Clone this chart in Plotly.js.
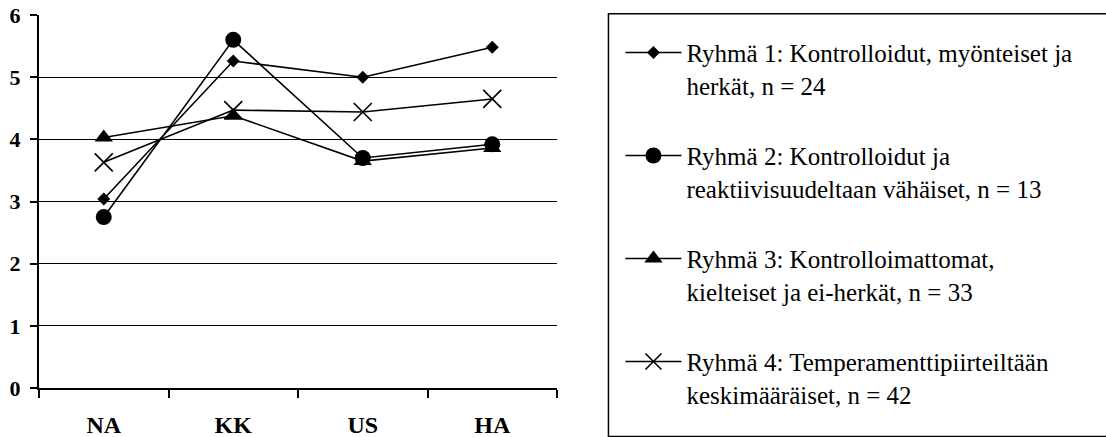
<!DOCTYPE html>
<html>
<head>
<meta charset="utf-8">
<script src="https://cdn.plot.ly/plotly-3.0.1.min.js"></script>
<style>
  html, body { margin: 0; padding: 0; background: #fff; }
  #chart { width: 1106px; height: 437px; }
</style>
</head>
<body>
<div id="chart"></div>
<script>
const categories = ['NA', 'KK', 'US', 'HA'];

const group1 = [3.04, 5.26, 5.00, 5.48];
const group2 = [2.75, 5.60, 3.70, 3.92];
const group3 = [4.03, 4.38, 3.65, 3.86];
const group4 = [3.63, 4.47, 4.44, 4.65];

const seriesNames = [
  'Ryhmä 1: Kontrolloidut, myönteiset ja<br>herkät, n = 24',
  'Ryhmä 2: Kontrolloidut ja<br>reaktiivisuudeltaan vähäiset, n = 13',
  'Ryhmä 3: Kontrolloimattomat,<br>kielteiset ja ei-herkät, n = 33',
  'Ryhmä 4: Temperamenttipiirteiltään<br>keskimääräiset, n = 42'
];

const yTicks = [0, 1, 2, 3, 4, 5, 6];

const W = 1106, H = 437;
const plotL = 39, plotR = 557.5, plotT = 15.3, plotB = 387.7;
const pw = plotR - plotL, ph = plotB - plotT;
const px = v => (v - plotL) / pw;
const py = v => (plotB - v) / ph;

const serif = '"Liberation Serif", "Times New Roman", Times, serif';

function mk(y, name, symbol, size, lw, group) {
  return {
    type: 'scatter', mode: 'lines+markers',
    x: categories, y: y, name: name, legendgroup: group,
    line: { color: '#000', width: 1.6 },
    marker: { symbol: symbol, size: size, color: '#000', line: { color: '#000', width: lw } },
    hoverinfo: 'skip'
  };
}

const data = [
  mk(group1, seriesNames[0], 'diamond', 10, 0, 'g1'),
  mk(group2, seriesNames[1], 'circle', 16, 0, 'g2'),
  mk(group3, seriesNames[2], 'triangle-up', 16, 0, 'g3'),
  mk(group4, seriesNames[3], 'x-thin-open', 18, 1.6, 'g4')
];

const layout = {
  width: W, height: H,
  margin: { l: plotL, r: W - plotR, t: plotT, b: H - plotB, pad: 0 },
  paper_bgcolor: '#fff', plot_bgcolor: '#fff',
  font: { family: serif, color: '#000', size: 22 },
  showlegend: true,
  xaxis: {
    type: 'category', categoryorder: 'array', categoryarray: categories,
    range: [-0.5, 3.5], fixedrange: true,
    showgrid: false, zeroline: false,
    showline: true, linecolor: '#000', linewidth: 2,
    ticks: 'outside', tickson: 'boundaries', ticklen: 8, tickwidth: 2, tickcolor: '#000',
    tickfont: { family: serif, size: 24, color: '#000', weight: 'bold' },
    ticklabelstandoff: 14
  },
  yaxis: {
    range: [0, 6], fixedrange: true,
    tickmode: 'array', tickvals: yTicks, ticktext: yTicks.map(v => '<b>' + v + '</b>'),
    showgrid: true, gridcolor: '#000', gridwidth: 1.3,
    zeroline: false,
    showline: true, linecolor: '#000', linewidth: 2,
    ticks: 'outside', ticklen: 7, tickwidth: 2, tickcolor: '#000',
    tickfont: { family: serif, size: 22, color: '#000' },
    ticklabelstandoff: 5,
    automargin: false
  },
  legend: {
    x: px(621), xanchor: 'left',
    y: py(30), yanchor: 'top',
    bgcolor: 'rgba(0,0,0,0)', borderwidth: 0,
    font: { family: serif, size: 25, color: '#000' },
    itemwidth: 56, valign: 'top',
    traceorder: 'grouped', tracegroupgap: 35,
    maxheight: 430,
    itemclick: false, itemdoubleclick: false
  },
  shapes: [{
    type: 'rect', xref: 'paper', yref: 'paper',
    x0: px(609), x1: px(1112), y0: py(436), y1: py(14),
    line: { color: '#000', width: 1.5 }, fillcolor: 'rgba(0,0,0,0)', layer: 'below'
  }]
};

Plotly.newPlot('chart', data, layout, { staticPlot: true, displayModeBar: false });
</script>
</body>
</html>
